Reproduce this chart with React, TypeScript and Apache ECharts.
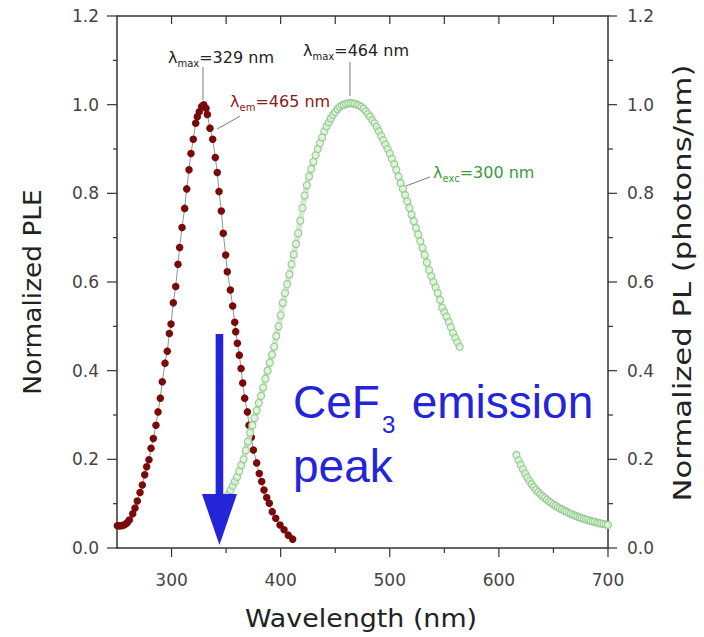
import React, { useEffect, useRef } from "react";
import * as echarts from "echarts";

// ---------- data ----------
const xRange = [250, 700];
const yRange = [0, 1.2];
const xLabelValues = [300, 400, 500, 600, 700];
const xMinorTickValues = [350, 450, 550, 650];
const xTopTickValues = [300, 350, 400, 450, 500, 550, 600, 650];
const yTickValues = [0, 0.2, 0.4, 0.6, 0.8, 1.0, 1.2];
const yMinorTickValues = [0.1, 0.3, 0.5, 0.7, 0.9, 1.1];

// PLE (excitation) spectrum, dark red dots
const pleWavelength = [250.3, 251.8, 253.4, 255.3, 257.3, 259.3, 261.3, 264.4, 266.5, 268.6, 271.1, 273.2, 275.4, 277.2, 279.3, 281.2, 283.3, 285.7, 287.6, 289.7, 291.5, 294.0, 296.1, 298.0, 299.5, 301.6, 303.8, 305.9, 307.4, 309.6, 312.0, 313.9, 316.0, 317.8, 319.9, 322.1, 323.6, 325.4, 327.6, 329.5, 331.6, 332.8, 335.2, 337.7, 340.1, 341.9, 343.5, 345.6, 347.4, 349.6, 351.1, 353.9, 356.0, 357.9, 358.8, 360.3, 362.1, 363.7, 365.2, 367.0, 369.5, 371.0, 373.1, 375.0, 378.0, 380.4, 382.6, 384.7, 387.2, 389.6, 392.3, 395.5, 399.4, 403.1, 407.0, 411.0];
const pleValue = [0.050, 0.050, 0.050, 0.051, 0.053, 0.057, 0.063, 0.077, 0.090, 0.106, 0.125, 0.142, 0.165, 0.183, 0.199, 0.225, 0.247, 0.277, 0.307, 0.338, 0.375, 0.417, 0.444, 0.484, 0.505, 0.553, 0.590, 0.640, 0.678, 0.723, 0.766, 0.810, 0.853, 0.890, 0.922, 0.958, 0.973, 0.984, 0.996, 1.000, 0.992, 0.978, 0.947, 0.922, 0.881, 0.847, 0.804, 0.760, 0.710, 0.661, 0.623, 0.582, 0.546, 0.509, 0.488, 0.462, 0.435, 0.405, 0.372, 0.338, 0.307, 0.277, 0.250, 0.221, 0.192, 0.168, 0.150, 0.131, 0.114, 0.101, 0.082, 0.067, 0.052, 0.041, 0.029, 0.020];

// PL (emission) spectrum, open green circles – first segment
const plWavelengthA = [352, 354, 356, 358, 360, 362, 364, 366, 368, 370, 372, 374, 376, 378, 380, 382, 384, 386, 388, 390, 392, 394, 396, 398, 400, 402, 404, 406, 408, 410, 412, 414, 416, 418, 420, 422, 424, 426, 428, 430, 432, 434, 436, 438, 440, 442, 444, 446, 448, 450, 452, 454, 456, 458, 460, 462, 464, 466, 468, 470, 472, 474, 476, 478, 480, 482, 484, 486, 488, 490, 492, 494, 496, 498, 500, 502, 504, 506, 508, 510, 512, 514, 516, 518, 520, 522, 524, 526, 528, 530, 532, 534, 536, 538, 540, 542, 544, 546, 548, 550, 552, 554, 556, 558, 560, 562, 564];
const plValueA = [0.120, 0.130, 0.140, 0.150, 0.160, 0.173, 0.187, 0.200, 0.220, 0.240, 0.260, 0.277, 0.293, 0.310, 0.327, 0.343, 0.362, 0.382, 0.400, 0.418, 0.436, 0.454, 0.478, 0.500, 0.525, 0.553, 0.575, 0.595, 0.617, 0.640, 0.662, 0.686, 0.710, 0.738, 0.767, 0.795, 0.818, 0.838, 0.855, 0.871, 0.886, 0.900, 0.913, 0.926, 0.940, 0.951, 0.960, 0.969, 0.977, 0.984, 0.990, 0.995, 0.998, 1.000, 1.002, 1.003, 1.004, 1.003, 1.002, 1.000, 0.998, 0.995, 0.991, 0.985, 0.979, 0.973, 0.965, 0.958, 0.950, 0.940, 0.930, 0.920, 0.910, 0.900, 0.890, 0.878, 0.866, 0.853, 0.838, 0.823, 0.810, 0.796, 0.782, 0.767, 0.752, 0.737, 0.722, 0.707, 0.692, 0.677, 0.661, 0.644, 0.627, 0.613, 0.600, 0.588, 0.575, 0.560, 0.542, 0.532, 0.522, 0.510, 0.498, 0.485, 0.474, 0.464, 0.454];
// second segment
const plWavelengthB = [616, 618, 620, 622, 624, 626, 628, 630, 632, 634, 636, 638, 640, 642, 644, 646, 648, 650, 652, 654, 656, 658, 660, 662, 664, 666, 668, 670, 672, 674, 676, 678, 680, 682, 684, 686, 688, 690, 692, 694, 696, 698, 700];
const plValueB = [0.210, 0.198, 0.188, 0.178, 0.168, 0.159, 0.151, 0.144, 0.137, 0.131, 0.126, 0.121, 0.117, 0.113, 0.109, 0.105, 0.102, 0.098, 0.095, 0.092, 0.089, 0.087, 0.084, 0.082, 0.079, 0.077, 0.075, 0.073, 0.071, 0.069, 0.067, 0.066, 0.064, 0.063, 0.061, 0.060, 0.059, 0.057, 0.056, 0.055, 0.054, 0.053, 0.052];

// annotations (anchored in data coordinates)
const peakLabels = [
  { sub: "max", rest: "=329 nm", color: "#222222", at: [296.7, 1.1075], line: [[328.8, 1.085], [328.8, 1.0105]] },
  { sub: "em", rest: "=465 nm", color: "#8b1a1a", at: [353.6, 1.008], line: [[341.7, 0.945], [362.7, 0.974]] },
  { sub: "max", rest: "=464 nm", color: "#222222", at: [420.5, 1.123], line: [[463.5, 1.096], [463.5, 1.0196]] },
  { sub: "exc", rest: "=300 nm", color: "#3a9a3a", at: [539.6, 0.848], line: [[514.9, 0.8166], [536.9, 0.837]] },
];
const arrowX = 343.9;
const arrowTop = 0.4827;
const arrowHeadTop = 0.1218;
const arrowTip = 0.0068;
const blueTextMain = "CeF";
const blueTextSub = "3";
const blueTextRest = "emission";
const blueTextLine2 = "peak";

const FONT = "'DejaVu Sans', sans-serif";
const BLUE = "#2424d8";
const AXIS_COLOR = "#333";

export default function App() {
  const ref = useRef<HTMLDivElement>(null);
  useEffect(() => {
    if (!ref.current) return;
    const chart = echarts.init(ref.current, undefined, { renderer: "svg" });
    const pleData = pleWavelength.map((w, i) => [w, pleValue[i]]);
    const plData: any[] = plWavelengthA.map((w, i) => [w, plValueA[i]]);
    plData.push([590, "-"]); // gap between the two measured segments
    plWavelengthB.forEach((w, i) => plData.push([w, plValueB[i]]));
    const labelStyle = { color: "#444", fontSize: 17, fontFamily: FONT };
    const lineAxis = { show: true, onZero: false, lineStyle: { color: AXIS_COLOR, width: 1.5 } };
    chart.setOption({
      animation: false,
      backgroundColor: "#fff",
      grid: { left: 117, top: 16, width: 491, height: 532 },
      xAxis: [
        {
          type: "value", position: "bottom", min: xRange[0], max: xRange[1], interval: 50,
          axisLine: lineAxis,
          axisTick: { show: false },
          axisLabel: { show: true, margin: 23, formatter: (v: number) => (xLabelValues.indexOf(v) >= 0 ? String(v) : ""), ...labelStyle },
          splitLine: { show: false },
        },
        {
          type: "value", position: "top", min: xRange[0], max: xRange[1], interval: 50,
          axisLine: lineAxis,
          axisTick: { show: false },
          axisLabel: { show: false },
          splitLine: { show: false },
        },
      ],
      yAxis: [
        {
          type: "value", position: "left", min: yRange[0], max: yRange[1], interval: 0.2,
          axisLine: lineAxis,
          axisTick: { show: false },
          axisLabel: { show: true, margin: 18, formatter: (v: number) => v.toFixed(1), ...labelStyle },
          splitLine: { show: false },
        },
        {
          type: "value", position: "right", min: yRange[0], max: yRange[1], interval: 0.2,
          axisLine: lineAxis,
          axisTick: { show: false },
          axisLabel: { show: true, margin: 19, formatter: (v: number) => v.toFixed(1), ...labelStyle },
          splitLine: { show: false },
        },
      ],
      series: [
        {
          name: "PLE", type: "line", xAxisIndex: 0, yAxisIndex: 0, data: pleData,
          symbol: "circle", symbolSize: 7.5, showAllSymbol: true,
          itemStyle: { color: "#7a0a0a", borderWidth: 0 },
          lineStyle: { color: "#777", width: 0.8 },
          z: 3,
        },
        {
          name: "PL", type: "line", xAxisIndex: 0, yAxisIndex: 1, data: plData,
          connectNulls: false,
          symbol: "circle", symbolSize: 7, showAllSymbol: true,
          lineStyle: { color: "#d3ebcf", width: 6, cap: "round" },
          itemStyle: { color: "rgba(240,250,238,0.55)", borderColor: "#98cd93", borderWidth: 1.2 },
          z: 4,
        },
      ],
    });

    const px = (x: number, y: number) => chart.convertToPixel({ xAxisIndex: 0, yAxisIndex: 0 }, [x, y]) as number[];
    const graphics: any[] = [];

    // axis ticks (drawn from the axis scales)
    const left = px(xRange[0], 0)[0];
    const right = px(xRange[1], 0)[0];
    const bottom = px(xRange[0], yRange[0])[1];
    const top = px(xRange[0], yRange[1])[1];
    const tick = (x1: number, y1: number, x2: number, y2: number) =>
      graphics.push({ type: "line", z: 40, silent: true, shape: { x1, y1, x2, y2 }, style: { stroke: AXIS_COLOR, lineWidth: 1.2 } });
    yTickValues.forEach((v) => { const y = px(xRange[0], v)[1]; tick(left - 10, y, left, y); tick(right, y, right + 9, y); });
    yMinorTickValues.forEach((v) => { const y = px(xRange[0], v)[1]; tick(left - 4, y, left, y); tick(right, y, right + 5, y); });
    xLabelValues.forEach((v) => { const x = px(v, 0)[0]; tick(x, bottom, x, bottom + 9); });
    xMinorTickValues.forEach((v) => { const x = px(v, 0)[0]; tick(x, bottom, x, bottom + 5); });
    xTopTickValues.forEach((v) => { const x = px(v, 0)[0]; tick(x, top, x, top + 8); });

    peakLabels.forEach((a) => {
      const p0 = px(a.line[0][0], a.line[0][1]);
      const p1 = px(a.line[1][0], a.line[1][1]);
      graphics.push({
        type: "line", z: 50,
        shape: { x1: p0[0], y1: p0[1], x2: p1[0], y2: p1[1] },
        style: { stroke: "#7a7a7a", lineWidth: 1 },
      });
      const t = px(a.at[0], a.at[1]);
      graphics.push({
        type: "text", z: 50, x: t[0], y: t[1],
        style: {
          text: `{a|λ}{s|${a.sub}}{a|${a.rest}}`,
          align: "left", verticalAlign: "middle",
          rich: {
            a: { fontSize: 16, fontFamily: FONT, fill: a.color },
            s: { fontSize: 10, fontFamily: FONT, fill: a.color, padding: [13, 0, 0, 0] },
          },
        },
      });
    });

    // blue arrow
    const aTop = px(arrowX, arrowTop);
    const aHead = px(arrowX, arrowHeadTop);
    const aTip = px(arrowX, arrowTip);
    graphics.push({
      type: "rect", z: 60,
      shape: { x: aTop[0] - 3.8, y: aTop[1], width: 7.6, height: aHead[1] - aTop[1] + 1 },
      style: { fill: BLUE },
    });
    graphics.push({
      type: "polygon", z: 60,
      shape: { points: [[aHead[0] - 17.5, aHead[1]], [aHead[0] + 17.5, aHead[1]], [aTip[0], aTip[1]]] },
      style: { fill: BLUE },
    });

    // blue text
    const blueFont = "46px 'Liberation Sans', Arial, sans-serif";
    const b1 = px(411.3, 0.3293);
    const b2 = px(492.9, 0.2775);
    const b3 = px(520.1, 0.3293);
    const b4 = px(411.3, 0.185);
    graphics.push({ type: "text", z: 60, x: b1[0], y: b1[1], style: { text: blueTextMain, font: blueFont, fill: BLUE, align: "left", verticalAlign: "middle" } });
    graphics.push({ type: "text", z: 60, x: b2[0], y: b2[1], style: { text: blueTextSub, font: "24px 'Liberation Sans', Arial, sans-serif", fill: BLUE, align: "left", verticalAlign: "middle" } });
    graphics.push({ type: "text", z: 60, x: b3[0], y: b3[1], style: { text: blueTextRest, font: blueFont, fill: BLUE, align: "left", verticalAlign: "middle" } });
    graphics.push({ type: "text", z: 60, x: b4[0], y: b4[1], style: { text: blueTextLine2, font: blueFont, fill: BLUE, align: "left", verticalAlign: "middle" } });

    // axis titles
    const titleFont = `24px ${FONT}`;
    graphics.push({ type: "text", z: 60, x: 33, y: 292, rotation: Math.PI / 2, scaleX: 1.1, style: { text: "Normalized PLE", font: titleFont, fill: "#222", align: "center", verticalAlign: "middle" } });
    graphics.push({ type: "text", z: 60, x: 682, y: 283, rotation: Math.PI / 2, scaleX: 1.28, style: { text: "Normalized PL (photons/nm)", font: titleFont, fill: "#222", align: "center", verticalAlign: "middle" } });
    graphics.push({ type: "text", z: 60, x: 361, y: 619, scaleX: 1.12, style: { text: "Wavelength (nm)", font: titleFont, fill: "#222", align: "center", verticalAlign: "middle" } });

    chart.setOption({ graphic: graphics });
    return () => chart.dispose();
  }, []);
  return <div ref={ref} style={{ position: "fixed", left: 0, top: 0, width: 704, height: 637, background: "#fff" }} />;
}
